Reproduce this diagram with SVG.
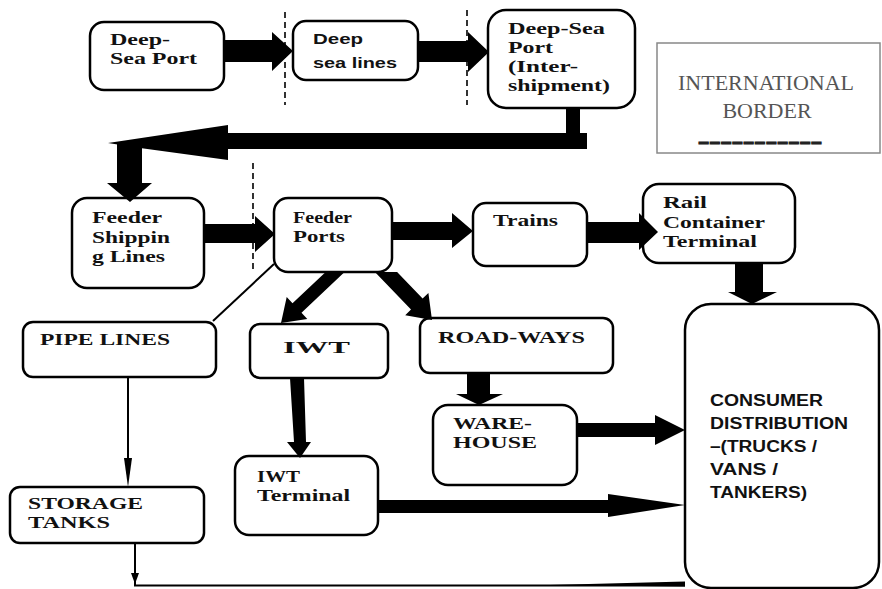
<svg xmlns="http://www.w3.org/2000/svg" width="882" height="589" viewBox="0 0 882 589">
<style>
.box{fill:#fff;stroke:#000;stroke-width:2.5}
.t{font-family:"Liberation Serif",serif;font-weight:bold;font-size:16px;fill:#111}
.tc{font-family:"Liberation Serif",serif;font-weight:bold;font-size:17px;fill:#111}
.ts{font-family:"Liberation Sans",sans-serif;font-weight:bold;font-size:15px;fill:#111}
.tcons{font-family:"Liberation Sans",sans-serif;font-weight:bold;font-size:16px;fill:#111}
.arr{fill:#000;stroke:none}
.thin{fill:none;stroke:#000;stroke-width:2}
.dash{fill:none;stroke:#000;stroke-width:1.6;stroke-dasharray:6 4}
</style>
<rect width="882" height="589" fill="#fff"/>
<g id="borders">
<line class="dash" x1="285" y1="12" x2="285" y2="105"/>
<line class="dash" x1="467" y1="10" x2="467" y2="105"/>
<line class="dash" x1="253" y1="163" x2="253" y2="270"/>
</g>
<g id="n_dsp"><rect class="box" x="90" y="22" width="134" height="68" rx="14"/>
<text class="t" x="110" y="45" textLength="60" lengthAdjust="spacingAndGlyphs">Deep-</text>
<text class="t" x="110" y="64" textLength="87" lengthAdjust="spacingAndGlyphs">Sea Port</text></g>
<g id="n_dsl"><rect class="box" x="293" y="21" width="125" height="59" rx="13"/>
<text class="ts" x="313" y="44" textLength="50" lengthAdjust="spacingAndGlyphs">Deep</text>
<text class="ts" x="313" y="68" textLength="84" lengthAdjust="spacingAndGlyphs">sea lines</text></g>
<g id="n_dspi"><rect class="box" x="488" y="10" width="147" height="98" rx="18"/>
<text class="t" x="508" y="34" textLength="97" lengthAdjust="spacingAndGlyphs">Deep-Sea</text>
<text class="t" x="508" y="53" textLength="45" lengthAdjust="spacingAndGlyphs">Port</text>
<text class="t" x="508" y="72" textLength="70" lengthAdjust="spacingAndGlyphs">(Inter-</text>
<text class="t" x="508" y="91" textLength="102" lengthAdjust="spacingAndGlyphs">shipment)</text></g>
<g id="n_border"><rect x="657" y="43" width="223" height="110" fill="#fff" stroke="#888" stroke-width="1.5"/>
<text x="766" y="90" text-anchor="middle" font-family="Liberation Serif,serif" font-size="22" fill="#555">INTERNATIONAL</text>
<text x="767" y="118" text-anchor="middle" font-family="Liberation Serif,serif" font-size="22" fill="#555">BORDER</text>
<text x="698" y="149" font-family="Liberation Serif,serif" font-weight="bold" font-size="24" fill="#222" stroke="#222" stroke-width="1.2" textLength="124" lengthAdjust="spacingAndGlyphs">-----------</text></g>
<g id="n_fsl"><rect class="box" x="72" y="198" width="132" height="90" rx="15"/>
<text class="t" x="92" y="223" textLength="70" lengthAdjust="spacingAndGlyphs">Feeder</text>
<text class="t" x="92" y="243" textLength="78" lengthAdjust="spacingAndGlyphs">Shippin</text>
<text class="t" x="92" y="262" textLength="73" lengthAdjust="spacingAndGlyphs">g Lines</text></g>
<g id="n_fp"><rect class="box" x="274" y="198" width="118" height="74" rx="14"/>
<text class="t" x="293" y="223" textLength="59" lengthAdjust="spacingAndGlyphs">Feeder</text>
<text class="t" x="293" y="242" textLength="52" lengthAdjust="spacingAndGlyphs">Ports</text></g>
<g id="n_trains"><rect class="box" x="473" y="203" width="114" height="63" rx="13"/>
<text class="t" x="493" y="226" textLength="65" lengthAdjust="spacingAndGlyphs">Trains</text></g>
<g id="n_rct"><rect class="box" x="643" y="184" width="152" height="79" rx="16"/>
<text class="t" x="663" y="208" textLength="44" lengthAdjust="spacingAndGlyphs">Rail</text>
<text class="t" x="663" y="228" textLength="102" lengthAdjust="spacingAndGlyphs">Container</text>
<text class="t" x="663" y="247" textLength="94" lengthAdjust="spacingAndGlyphs">Terminal</text></g>
<g id="n_pipe"><rect class="box" x="23" y="322" width="193" height="55" rx="10"/>
<text class="tc" x="40" y="345" font-size="18" textLength="130" lengthAdjust="spacingAndGlyphs">PIPE LINES</text></g>
<g id="n_iwt"><rect class="box" x="250" y="324" width="138" height="54" rx="10"/>
<text class="tc" x="283" y="353" font-size="22" textLength="67" lengthAdjust="spacingAndGlyphs">IWT</text></g>
<g id="n_road"><rect class="box" x="420" y="318" width="193" height="55" rx="10"/>
<text class="tc" x="438" y="343" textLength="147" lengthAdjust="spacingAndGlyphs">ROAD-WAYS</text></g>
<g id="n_storage"><rect class="box" x="10" y="487" width="194" height="56" rx="10"/>
<text class="tc" x="28" y="509" textLength="115" lengthAdjust="spacingAndGlyphs">STORAGE</text>
<text class="tc" x="28" y="528" textLength="82" lengthAdjust="spacingAndGlyphs">TANKS</text></g>
<g id="n_iwtt"><rect class="box" x="235" y="456" width="143" height="79" rx="14"/>
<text class="t" x="257" y="482" textLength="43" lengthAdjust="spacingAndGlyphs">IWT</text>
<text class="t" x="257" y="501" textLength="93" lengthAdjust="spacingAndGlyphs">Terminal</text></g>
<g id="n_ware"><rect class="box" x="433" y="405" width="144" height="80" rx="15"/>
<text class="tc" x="453" y="429" textLength="79" lengthAdjust="spacingAndGlyphs">WARE-</text>
<text class="tc" x="453" y="448" textLength="84" lengthAdjust="spacingAndGlyphs">HOUSE</text></g>
<g id="n_consumer"><rect class="box" x="685" y="304" width="194" height="284" rx="26"/>
<text class="tcons" x="710" y="406" textLength="113" lengthAdjust="spacingAndGlyphs">CONSUMER</text>
<text class="tcons" x="710" y="429" textLength="138" lengthAdjust="spacingAndGlyphs">DISTRIBUTION</text>
<text class="tcons" x="710" y="452" textLength="107" lengthAdjust="spacingAndGlyphs">–(TRUCKS /</text>
<text class="tcons" x="710" y="475" textLength="68" lengthAdjust="spacingAndGlyphs">VANS /</text>
<text class="tcons" x="710" y="498" textLength="97" lengthAdjust="spacingAndGlyphs">TANKERS)</text></g>
<g id="connectors">
<polygon class="arr" points="224,40 272,40 272,32 293,51 272,71 272,62 224,62"/>
<polygon class="arr" points="418,41 468,41 468,32 489,52 468,72 468,62 418,62"/>
<path class="arr" d="M566,108 L580,108 L580,133 L587,133 L587,149 L228,149 L228,160 L140,148 L108,143 L228,125 L228,133 L566,133 Z"/>
<polygon class="arr" points="117,142 142,142 142,183 152,183 130,202 107,183 117,183"/>
<polygon class="arr" points="204,224 255,224 255,216 275,234 255,252 255,243 204,243"/>
<polygon class="arr" points="392,222 452,222 452,213 473,231 452,248 452,240 392,240"/>
<polygon class="arr" points="587,222 639,222 639,213 658,232 639,250 639,243 587,243"/>
<polygon class="arr" points="735,263 763,263 763,292 777,292 752,304 728,292 735,292"/>
<polygon class="arr" points="325.7,272 344.6,272 301.5,312.7 307.3,318.9 281,323 286.7,297.1 292.5,303.3"/>
<polygon class="arr" points="374.9,272 397.1,272 422.6,298.6 428.4,293 432,320 405.2,315.2 411,309.6"/>
<line class="thin" x1="274" y1="264" x2="213" y2="321" stroke-width="1.6"/>
<polygon class="arr" points="290,378 304,378 306,442 311,442 300,458 287,442 294,442"/>
<polygon class="arr" points="467,373 490,373 490,394 503,394 479,405 456,394 467,394"/>
<polygon class="arr" points="577,423 655,423 655,415 685,430 655,445 655,437 577,437"/>
<polygon class="arr" points="378,500 608,500 608,494 685,505 608,517 608,513 378,513"/>
<line class="thin" x1="128" y1="377" x2="128" y2="462" stroke-width="2.5"/>
<polygon class="arr" points="124,458 132,458 128,487"/>
<polyline class="thin" points="135,543 135,585.5 685,585.5" stroke-width="2.5"/>
<polygon class="arr" points="131,573 139,573 135,584"/>
<polygon class="arr" points="550,585 685,581.5 685,586.5"/>
</g>
</svg>
